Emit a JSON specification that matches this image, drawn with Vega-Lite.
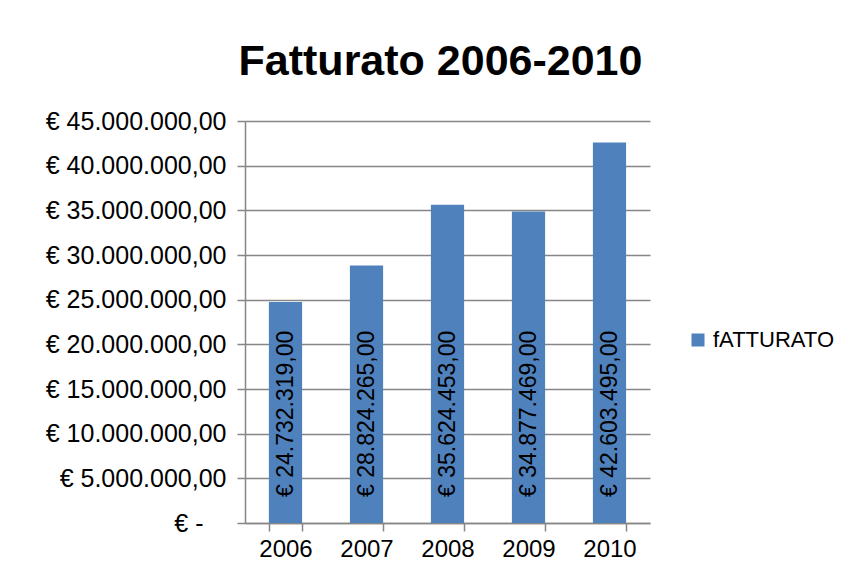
{
  "$schema": "https://vega.github.io/schema/vega-lite/v6.json",
  "autosize": "none",
  "width": 405,
  "height": 402,
  "padding": {"left": 245, "top": 121, "right": 203, "bottom": 62},
  "background": "white",
  "title": {
    "text": "Fatturato 2006-2010",
    "font": "Liberation Sans",
    "fontSize": 43,
    "fontWeight": "bold",
    "color": "black",
    "anchor": "middle",
    "dx": -7,
    "offset": 25
  },
  "data": {
    "values": [
      {"anno": "2006", "fatturato": 24732319, "serie": "fATTURATO"},
      {"anno": "2007", "fatturato": 28824265, "serie": "fATTURATO"},
      {"anno": "2008", "fatturato": 35624453, "serie": "fATTURATO"},
      {"anno": "2009", "fatturato": 34877469, "serie": "fATTURATO"},
      {"anno": "2010", "fatturato": 42603495, "serie": "fATTURATO"}
    ]
  },
  "encoding": {
    "x": {
      "field": "anno",
      "type": "ordinal",
      "scale": {"paddingInner": 0.59, "paddingOuter": 0.295},
      "axis": {
        "title": null,
        "labelAngle": 0,
        "labelFont": "Liberation Sans",
        "labelFontSize": 24,
        "labelColor": "black",
        "labelPadding": 6,
        "domainColor": "#868686",
        "domainWidth": 1.5,
        "tickColor": "#868686",
        "tickWidth": 1.5,
        "tickSize": 8,
        "tickBand": "extent",
        "grid": false
      }
    }
  },
  "layer": [
    {
      "mark": {"type": "bar", "color": "#4F81BD"},
      "encoding": {
        "y": {
          "field": "fatturato",
          "type": "quantitative",
          "scale": {"domain": [0, 45000000], "nice": false},
          "axis": {
            "title": null,
            "values": [0, 5000000, 10000000, 15000000, 20000000, 25000000, 30000000, 35000000, 40000000, 45000000],
            "format": "$,.2f",
            "labelExpr": "datum.value == 0 ? '€ -\u2009\u2800' : datum.label",
            "labelLimit": 400,
            "labelFont": "Liberation Sans",
            "labelFontSize": 25,
            "labelColor": "black",
            "labelPadding": 11,
            "domainColor": "#868686",
            "domainWidth": 1.5,
            "tickColor": "#868686",
            "tickWidth": 1.5,
            "tickSize": 8,
            "grid": true,
            "gridColor": "#868686",
            "gridWidth": 1.5
          }
        },
        "color": {
          "field": "serie",
          "type": "nominal",
          "scale": {"range": ["#4F81BD"]},
          "legend": {
            "title": null,
            "orient": "none",
            "legendX": 442,
            "legendY": 208,
            "symbolType": "square",
            "symbolSize": 169,
            "symbolStrokeWidth": 0,
            "labelFont": "Liberation Sans",
            "labelFontSize": 22,
            "labelColor": "black",
            "labelOffset": 4
          }
        }
      }
    },
    {
      "mark": {
        "type": "text",
        "angle": 270,
        "align": "left",
        "baseline": "middle",
        "dx": 26,
        "font": "Liberation Sans",
        "fontSize": 23,
        "color": "black"
      },
      "encoding": {
        "y": {"datum": 0, "type": "quantitative"},
        "text": {"field": "fatturato", "type": "quantitative", "format": "$,.2f"}
      }
    }
  ],
  "config": {
    "view": {"stroke": null},
    "locale": {
      "number": {
        "decimal": ",",
        "thousands": ".",
        "grouping": [3],
        "currency": ["€ ", ""]
      }
    }
  }
}
